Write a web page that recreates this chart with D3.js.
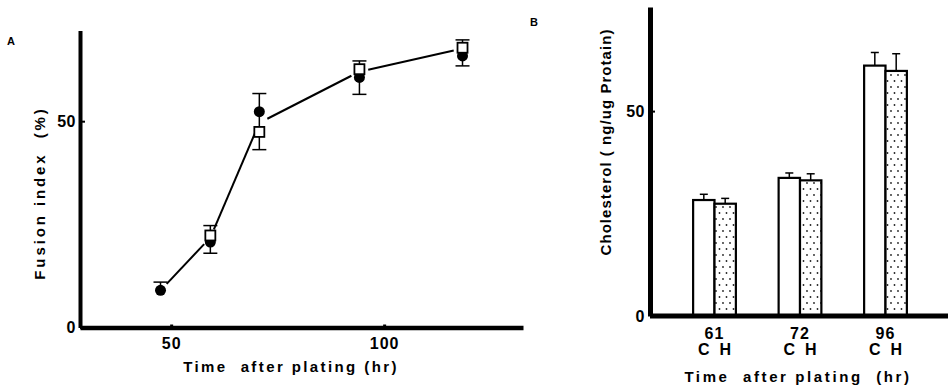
<!DOCTYPE html>
<html>
<head>
<meta charset="utf-8">
<style>
  body { margin: 0; background: #ffffff; }
  svg text { font-family: "Liberation Sans", Arial, sans-serif; font-weight: bold; fill: #000; }
</style>
</head>
<body>
<svg width="948" height="389"></svg>
<script src="https://cdn.jsdelivr.net/npm/d3@7"></script>
<script>
// ---- data, panel A (fusion index) ----
let hoursA = [47.5, 59.2, 70.7, 94.2, 118.4];
let circleA = [9.0, 20.7, 52.3, 60.6, 65.8];   // filled circles
let squareA = [null, 22.3, 47.4, 62.6, 67.8];  // open squares
let lineA = [9.0, 21.8, 49.6, 62.0, 67.6];     // connecting curve
let errTopA = [11.0, 24.7, 56.7, 64.6, 69.7];
let errBotA = [null, 18.0, 43.1, 56.5, 63.4];
let xTicksA = [50, 100];
let yTicksA = [0, 50];

// ---- data, panel B (cholesterol) ----
let hoursB = ["61", "72", "96"];
let groupsB = ["C", "H"];
let valC = [28.3, 33.7, 61.1];
let valH = [27.4, 33.1, 59.8];
let errC = [29.7, 34.9, 64.3];
let errH = [28.7, 34.7, 64.0];
let yTicksB = [0, 50];

let svg = d3.select("svg");

let defs = svg.append("defs");
let pat = defs.append("pattern")
  .attr("id", "dots")
  .attr("patternUnits", "userSpaceOnUse")
  .attr("width", 7).attr("height", 12);
pat.append("rect").attr("width", 7).attr("height", 12).attr("fill", "#fff");
pat.append("circle").attr("cx", 2).attr("cy", 3).attr("r", 0.9).attr("fill", "#222");
pat.append("circle").attr("cx", 5.5).attr("cy", 9).attr("r", 0.9).attr("fill", "#222");

// =============== Panel A ===============
let xA = d3.scaleLinear().domain([28.6, 132.6]).range([80, 523]);
let yA = d3.scaleLinear().domain([0, 72]).range([327.5, 30.4]);

let gA = svg.append("g");

let axA = gA.append("g")
  .attr("transform", "translate(0," + yA(0) + ")")
  .call(d3.axisBottom(xA).tickValues(xTicksA).tickSize(-3).tickSizeOuter(0).tickPadding(10));
axA.select(".domain").attr("stroke-width", 4.5);
axA.selectAll(".tick line").attr("stroke-width", 3);
axA.selectAll("text").attr("font-size", 16).attr("letter-spacing", 1);

let ayA = gA.append("g")
  .attr("transform", "translate(" + xA(28.6) + ",0)")
  .call(d3.axisLeft(yA).tickValues(yTicksA).tickSize(-5).tickSizeOuter(0).tickPadding(4));
ayA.select(".domain").attr("stroke-width", 4);
ayA.selectAll(".tick line").attr("stroke-width", 2);
ayA.selectAll("text").attr("font-size", 16).attr("letter-spacing", 0.5);

// connecting line with small gaps near markers
let gap = 9;
for (let i = 0; i < hoursA.length - 1; i++) {
  let x0 = xA(hoursA[i]), y0 = yA(lineA[i]);
  let x1 = xA(hoursA[i + 1]), y1 = yA(lineA[i + 1]);
  let len = Math.hypot(x1 - x0, y1 - y0);
  let ux = (x1 - x0) / len, uy = (y1 - y0) / len;
  gA.append("line")
    .attr("x1", x0 + ux * gap).attr("y1", y0 + uy * gap)
    .attr("x2", x1 - ux * gap).attr("y2", y1 - uy * gap)
    .attr("stroke", "#000").attr("stroke-width", 2);
}

// error bars
hoursA.forEach((h, i) => {
  let x = xA(h);
  let lo = errBotA[i] != null ? errBotA[i] : circleA[i];
  gA.append("line")
    .attr("x1", x).attr("x2", x)
    .attr("y1", yA(lo)).attr("y2", yA(errTopA[i]))
    .attr("stroke", "#000").attr("stroke-width", 1.5);
  gA.append("line")
    .attr("x1", x - 7).attr("x2", x + 7)
    .attr("y1", yA(errTopA[i])).attr("y2", yA(errTopA[i]))
    .attr("stroke", "#000").attr("stroke-width", 1.5);
  if (errBotA[i] != null) {
    gA.append("line")
      .attr("x1", x - 7).attr("x2", x + 7)
      .attr("y1", yA(errBotA[i])).attr("y2", yA(errBotA[i]))
      .attr("stroke", "#000").attr("stroke-width", 1.5);
  }
});

gA.selectAll("circle.pt")
  .data(hoursA)
  .enter()
  .append("circle")
  .attr("class", "pt")
  .attr("cx", d => xA(d))
  .attr("cy", (d, i) => yA(circleA[i]))
  .attr("r", 5.5)
  .attr("fill", "#000");

gA.selectAll("rect.sq")
  .data(hoursA.filter((d, i) => squareA[i] != null))
  .enter()
  .append("rect")
  .attr("class", "sq")
  .attr("x", d => xA(d) - 5)
  .attr("y", d => yA(squareA[hoursA.indexOf(d)]) - 5)
  .attr("width", 10).attr("height", 10)
  .attr("fill", "#fff").attr("stroke", "#000").attr("stroke-width", 1.8);

gA.append("text")
  .attr("x", 291).attr("y", 372)
  .attr("text-anchor", "middle")
  .attr("font-size", 15)
  .attr("letter-spacing", 2.4)
  .attr("xml:space", "preserve")
  .text("Time  after plating (hr)");

gA.append("text")
  .attr("transform", "translate(45,193) rotate(-90)")
  .attr("text-anchor", "middle")
  .attr("font-size", 15)
  .attr("letter-spacing", 2.9)
  .attr("xml:space", "preserve")
  .text("Fusion index  (%)");

gA.append("text")
  .attr("x", 7).attr("y", 45)
  .attr("font-size", 11)
  .text("A");

// =============== Panel B ===============
let yB = d3.scaleLinear().domain([0, 75.4]).range([316, 7]);
let xB = d3.scaleBand().domain(hoursB).range([671.75, 928.25]).paddingInner(0.5).paddingOuter(0.25);
let xSub = d3.scaleBand().domain(groupsB).range([0, xB.bandwidth()]);

let gB = svg.append("g");
let axisX = 650;

// bars
let barData = [];
hoursB.forEach((h, i) => {
  barData.push({ h: h, g: "C", v: valC[i], e: errC[i] });
  barData.push({ h: h, g: "H", v: valH[i], e: errH[i] });
});

gB.selectAll("line.err")
  .data(barData)
  .enter()
  .append("line")
  .attr("class", "err")
  .attr("x1", d => xB(d.h) + xSub(d.g) + xSub.bandwidth() / 2)
  .attr("x2", d => xB(d.h) + xSub(d.g) + xSub.bandwidth() / 2)
  .attr("y1", d => yB(d.v)).attr("y2", d => yB(d.e))
  .attr("stroke", "#000").attr("stroke-width", 1.5);
gB.selectAll("line.cap")
  .data(barData)
  .enter()
  .append("line")
  .attr("class", "cap")
  .attr("x1", d => xB(d.h) + xSub(d.g) + xSub.bandwidth() / 2 - 4)
  .attr("x2", d => xB(d.h) + xSub(d.g) + xSub.bandwidth() / 2 + 4)
  .attr("y1", d => yB(d.e)).attr("y2", d => yB(d.e))
  .attr("stroke", "#000").attr("stroke-width", 1.5);

gB.selectAll("rect.bar")
  .data(barData)
  .enter()
  .append("rect")
  .attr("class", "bar")
  .attr("x", d => xB(d.h) + xSub(d.g))
  .attr("y", d => yB(d.v))
  .attr("width", xSub.bandwidth())
  .attr("height", d => yB(0) - yB(d.v))
  .attr("fill", d => d.g == "H" ? "url(#dots)" : "#fff")
  .attr("stroke", "#000").attr("stroke-width", 2.2);

// x axis line
gB.append("line")
  .attr("x1", axisX).attr("x2", 948)
  .attr("y1", yB(0)).attr("y2", yB(0))
  .attr("stroke", "#000").attr("stroke-width", 5);

let axB = gB.append("g")
  .attr("transform", "translate(0," + yB(0) + ")")
  .call(d3.axisBottom(xB).tickSize(0).tickPadding(12));
axB.select(".domain").remove();
axB.selectAll("text").attr("font-size", 16).attr("letter-spacing", 1);

// C H sub labels
gB.selectAll("text.sub")
  .data(barData)
  .enter()
  .append("text")
  .attr("class", "sub")
  .attr("x", d => xB(d.h) + xSub(d.g) + xSub.bandwidth() / 2)
  .attr("y", 355)
  .attr("text-anchor", "middle")
  .attr("font-size", 16)
  .text(d => d.g);

let ayB = gB.append("g")
  .attr("transform", "translate(" + axisX + ",0)")
  .call(d3.axisLeft(yB).tickValues(yTicksB).tickSize(-5).tickSizeOuter(0).tickPadding(5));
ayB.select(".domain").attr("stroke-width", 5);
ayB.selectAll(".tick line").attr("stroke-width", 2);
ayB.selectAll("text").attr("font-size", 16).attr("letter-spacing", 0.5);

gB.append("text")
  .attr("x", 798).attr("y", 382)
  .attr("text-anchor", "middle")
  .attr("font-size", 15)
  .attr("letter-spacing", 2.6)
  .attr("xml:space", "preserve")
  .text("Time  after plating  (hr)");

gB.append("text")
  .attr("transform", "translate(611,142) rotate(-90)")
  .attr("text-anchor", "middle")
  .attr("font-size", 15)
  .attr("letter-spacing", 1.05)
  .attr("xml:space", "preserve")
  .text("Cholesterol ( ng/ug Protain)");

gB.append("text")
  .attr("x", 530).attr("y", 26)
  .attr("font-size", 11)
  .text("B");
</script>
</body>
</html>
